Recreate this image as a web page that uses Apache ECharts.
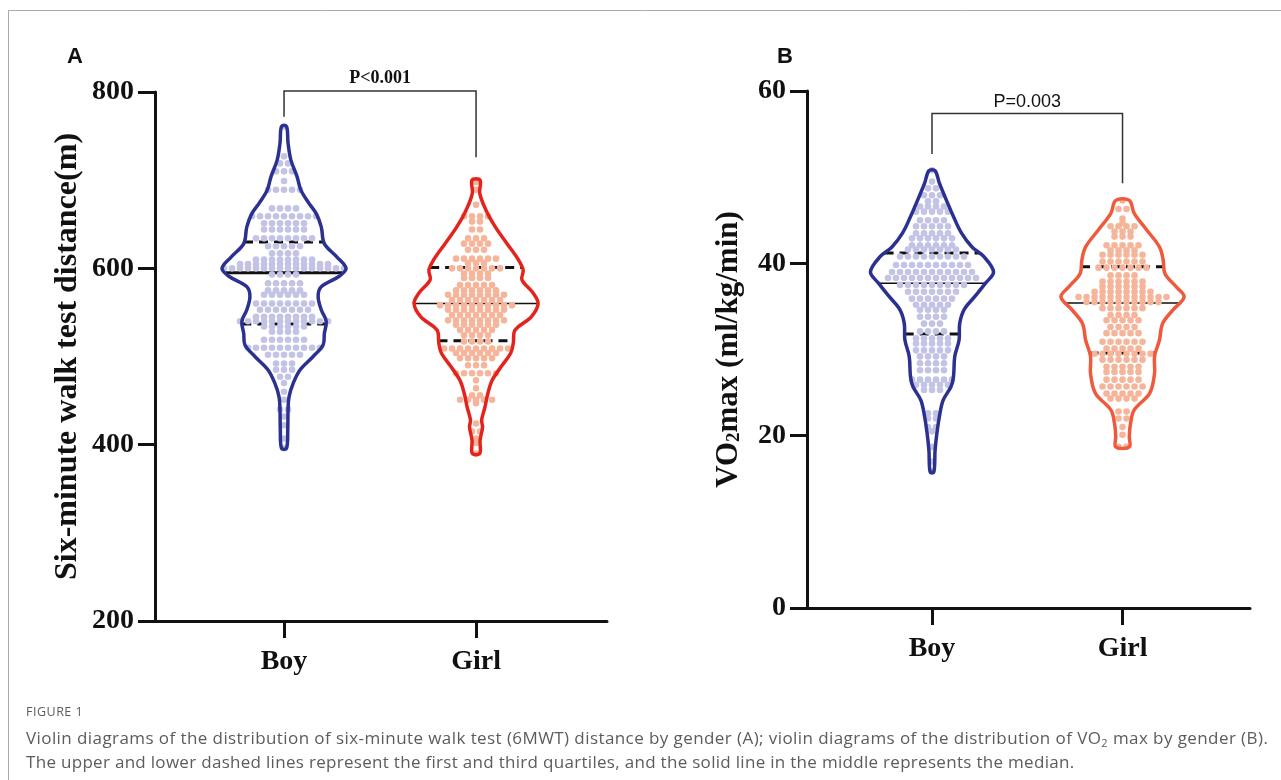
<!DOCTYPE html>
<html>
<head>
<meta charset="utf-8">
<title>Figure 1 - violin diagrams</title>
<script src="https://cdn.jsdelivr.net/npm/echarts@6/dist/echarts.min.js"></script>
<style>
    html, body { margin: 0; padding: 0; background: #fff; }
    #wrap { position: relative; width: 1281px; height: 780px; overflow: hidden; }
    #chart { position: absolute; left: 0; top: 0; width: 1281px; height: 780px; }
    #caption { position: absolute; left: 26px; top: 703px; font-family: 'Open Sans', 'Noto Sans', sans-serif; color: #5c5c5c; }
    #caption .fig { font-size: 12.5px; line-height: 18px; letter-spacing: 0.5px; margin-bottom: 5px; }
    #caption .line { font-size: 17px; line-height: 24px; letter-spacing: 0.3px; white-space: nowrap; }
    #caption .first { letter-spacing: 0.42px; }
    #caption sub { font-size: 11px; line-height: 0; vertical-align: -3px; }
</style>
</head>
<body>
<div id="wrap">
    <div id="chart"></div>
    <div id="caption">
        <div class="fig">FIGURE 1</div>
        <div class="line first">Violin diagrams of the distribution of six-minute walk test (6MWT) distance by gender (A); violin diagrams of the distribution of VO<sub>2</sub> max by gender (B).</div>
        <div class="line">The upper and lower dashed lines represent the first and third quartiles, and the solid line in the middle represents the median.</div>
    </div>
</div>
<script>
    var categories = ['Boy', 'Girl'];

    // six-minute walk test distance (m): dot rows (value, how many children)
    var boyWalkVals = [396, 407, 422, 432, 440, 451, 460, 470, 477, 485, 492, 502, 510, 519, 528, 534, 540, 545, 553, 560,
        570, 575, 583, 593, 600, 605, 610, 617, 625, 634, 644, 651, 659, 668, 689, 699, 710, 719, 727, 761];
    var boyWalkCounts = [1, 1, 1, 1, 2, 1, 1, 1, 2, 3, 3, 5, 10, 6, 4, 6, 12, 8, 7, 8,
        6, 5, 5, 4, 16, 12, 8, 4, 5, 8, 6, 6, 9, 4, 5, 1, 3, 2, 1, 1];
    var girlWalkVals = [390, 402, 407, 415, 424, 447, 451, 456, 464, 473, 481, 490, 498, 504, 509, 517, 524, 530, 536, 541,
        547, 553, 558, 564, 570, 575, 581, 589, 594, 600, 606, 611, 621, 628, 634, 644, 653, 659, 672, 689, 698];
    var girlWalkCounts = [1, 1, 1, 2, 1, 1, 5, 2, 1, 1, 6, 3, 5, 6, 9, 4, 4, 5, 6, 8,
        7, 8, 10, 7, 8, 6, 5, 4, 4, 7, 3, 6, 3, 4, 3, 2, 2, 4, 1, 1, 1];

    // VO2max (ml/kg/min): dot rows
    var boyVo2Vals = [15.8, 17.0, 18.7, 20.5, 21.0, 22.0, 22.6, 25.3, 25.9, 26.5, 27.6, 28.4, 29.2, 29.9, 30.7, 31.3, 32.1,
        33.0, 33.8, 34.6, 35.2, 35.9, 36.7, 37.5, 38.3, 39.0, 39.8, 40.8, 41.6, 42.1, 42.9, 43.5, 44.3, 45.0, 46.0, 46.6,
        47.2, 47.9, 48.7, 49.5, 50.8];
    var boyVo2Counts = [1, 1, 1, 1, 2, 2, 2, 3, 5, 6, 4, 4, 4, 5, 5, 5, 4,
        3, 4, 4, 5, 6, 7, 9, 12, 11, 10, 9, 7, 6, 6, 5, 5, 4, 5, 4,
        2, 3, 2, 1, 1];
    var girlVo2Vals = [18.7, 20.1, 21.0, 22.0, 22.8, 24.3, 24.9, 25.7, 26.5, 27.4, 28.0, 28.8, 29.5, 30.1, 30.9, 31.9, 32.6,
        33.4, 34.0, 34.8, 35.5, 36.1, 36.7, 37.3, 37.9, 38.6, 39.5, 40.2, 41.0, 41.5, 42.1, 43.1, 43.7, 44.3, 44.7, 45.2,
        46.3, 47.3];
    var girlVo2Counts = [2, 1, 1, 2, 2, 4, 5, 6, 5, 5, 5, 6, 8, 5, 6, 5, 4,
        5, 4, 6, 10, 12, 8, 6, 6, 4, 7, 6, 6, 4, 5, 3, 3, 4, 1, 1,
        2, 1];

    // violin outlines: levels and relative density (100 = widest point)
    var boyWalkLevels = [396, 417, 439, 454, 470, 485, 500, 513, 526, 540, 553, 568, 579, 591, 600, 613, 628, 647, 662, 674, 689, 704, 723, 742, 761];
    var boyWalkDensity = [4, 6, 6.5, 8, 15, 26, 47, 63, 65, 68, 60, 55, 60, 89, 100, 85, 65, 60, 52, 40, 27, 21, 11, 6.5, 4];
    var girlWalkLevels = [390, 405, 420, 428, 443, 458, 473, 488, 504, 515, 530, 545, 560, 572, 587, 598, 610, 628, 647, 666, 685, 700];
    var girlWalkDensity = [6, 6.5, 10.5, 9, 14.5, 19, 26, 40, 56, 60, 63, 89, 100, 92, 74, 76, 68, 50, 31, 16, 6, 6.5];
    var boyVo2Levels = [15.8, 18.3, 20.3, 22.2, 24.1, 25.7, 26.9, 29.2, 31.1, 33.0, 34.6, 36.1, 37.7, 39.0, 40.8, 41.9, 43.5, 45.4, 47.4, 49.3, 50.75];
    var boyVo2Density = [3, 5, 8, 12, 18, 31, 35, 37, 44, 45, 52, 69, 87, 100, 84, 65, 48, 35, 23, 12, 5];
    var girlVo2Levels = [18.7, 19.9, 21.4, 23.0, 24.9, 27.2, 29.2, 31.1, 33.0, 34.6, 36.1, 37.3, 38.8, 40.4, 41.9, 43.9, 45.8, 47.3];
    var girlVo2Density = [11, 11, 13, 19, 44, 52, 52, 60, 65, 82, 100, 87, 69, 66, 60, 39, 19, 11];

    // quartiles: [Q1, median, Q3]
    var boyWalkQ = [537, 595, 630];
    var girlWalkQ = [518, 560, 601];
    var boyVo2Q = [31.8, 37.7, 41.2];
    var girlVo2Q = [29.6, 35.4, 39.6];

    var BOY = '#2b3190', GIRL_A = '#e4231d', GIRL_B = '#ee5a3b';
    var BOY_DOT = '#c3c3e6', GIRL_DOT = '#f6b59a';
    var SERIF = "'Liberation Serif', 'Times New Roman', serif";
    var VIOLIN_HALF = 0.323;   // widest half-width, in category units
    var DOT_STEP = 8, DOT_R = 3.3;

    function densAt(levels, dens, v) {
        for (var i = 0; i < levels.length - 1; i++) {
            if (v >= levels[i] && v <= levels[i + 1]) {
                var t = (v - levels[i]) / (levels[i + 1] - levels[i]);
                return dens[i] + t * (dens[i + 1] - dens[i]);
            }
        }
        return 0;
    }

    function violinSeries(g, cat, levels, dens, color) {
        return {
            type: 'custom', xAxisIndex: g, yAxisIndex: g, silent: true, z: 4,
            data: [[cat]],
            renderItem: function (params, api) {
                var unit = api.size([1, 0])[0];
                var left = [], right = [];
                for (var i = 0; i < levels.length; i++) {
                    var c = api.coord([cat, levels[i]]);
                    var hw = dens[i] / 100 * VIOLIN_HALF * unit;
                    left.push([c[0] - hw, c[1]]);
                    right.unshift([c[0] + hw, c[1]]);
                }
                return {
                    type: 'polygon',
                    shape: {points: left.concat(right), smooth: 0.35},
                    style: {fill: 'none', stroke: color, lineWidth: 3.5, lineJoin: 'round'}
                };
            }
        };
    }

    function quartileSeries(g, cat, levels, dens, q, medianWidth) {
        return {
            type: 'custom', xAxisIndex: g, yAxisIndex: g, silent: true, z: 2,
            data: q.map(function (v, i) { return [cat, v, i]; }),
            renderItem: function (params, api) {
                var v = api.value(1), k = api.value(2);
                var unit = api.size([1, 0])[0];
                var c = api.coord([cat, v]);
                var hw = densAt(levels, dens, v) / 100 * VIOLIN_HALF * unit;
                return {
                    type: 'line',
                    shape: {x1: c[0] - hw, y1: c[1], x2: c[0] + hw, y2: c[1]},
                    style: k === 1 ?
                        {stroke: '#111', lineWidth: medianWidth} :
                        {stroke: '#111', lineWidth: 3, lineDash: [9, 6]}
                };
            }
        };
    }

    function dotSeries(g, cat, vals, counts, color) {
        return {
            type: 'custom', xAxisIndex: g, yAxisIndex: g, silent: true, z: 3,
            data: vals.map(function (v, i) { return [cat, v, counts[i]]; }),
            renderItem: function (params, api) {
                var c = api.coord([api.value(0), api.value(1)]);
                var n = api.value(2), kids = [];
                for (var k = 0; k < n; k++) {
                    kids.push({
                        type: 'circle',
                        shape: {cx: c[0] + (k - (n - 1) / 2) * DOT_STEP, cy: c[1], r: DOT_R},
                        style: {fill: color}
                    });
                }
                return {type: 'group', children: kids};
            }
        };
    }

    // significance bracket between Boy (1) and Girl (2)
    function bracketSeries(g, top, leftEnd, rightEnd, textY, label, font) {
        return {
            type: 'custom', xAxisIndex: g, yAxisIndex: g, silent: true, clip: false, z: 5,
            data: [[1, 2]],
            renderItem: function (params, api) {
                var p1 = api.coord([1, leftEnd]), p2 = api.coord([1, top]);
                var p3 = api.coord([2, top]), p4 = api.coord([2, rightEnd]);
                var t = api.coord([1.5, textY]);
                return {
                    type: 'group', children: [
                        {type: 'polyline', shape: {points: [p1, p2, p3, p4]}, style: {stroke: '#333', lineWidth: 1.5, fill: 'none'}},
                        {type: 'text', x: t[0], y: t[1], style: {text: label, align: 'center', verticalAlign: 'middle',
                            fill: '#111', font: font}}
                    ]
                };
            }
        };
    }

    function xAxisFor(g, min, max) {
        return {
            type: 'value', gridIndex: g, min: min, max: max,
            splitLine: {show: false},
            axisLine: {show: true, lineStyle: {color: '#111', width: 3}},
            axisTick: {show: true, customValues: [1, 2], length: 17, lineStyle: {color: '#111', width: 3}},
            axisLabel: {
                customValues: [1, 2], margin: 27,
                formatter: function (v) { return categories[Math.round(v) - 1]; },
                fontFamily: SERIF, fontWeight: 'bold', fontSize: 28, color: '#111'
            }
        };
    }

    function yAxisFor(g, min, max, interval, name, gap, rich) {
        return {
            type: 'value', gridIndex: g, min: min, max: max, interval: interval,
            name: name, nameLocation: 'middle', nameGap: gap,
            nameTextStyle: {fontFamily: SERIF, fontWeight: 'bold', fontSize: 32, color: '#111', rich: rich},
            splitLine: {show: false},
            axisLine: {show: true, lineStyle: {color: '#111', width: 3}},
            axisTick: {show: true, length: 17, lineStyle: {color: '#111', width: 3}},
            axisLabel: {margin: 21, fontFamily: SERIF, fontWeight: 'bold', fontSize: 28, color: '#111'}
        };
    }

    var chart = echarts.init(document.getElementById('chart'));

    chart.setOption({
        animation: false,
        backgroundColor: '#fff',
        grid: [
            {left: 155, top: 92, width: 452, height: 529},
            {left: 807, top: 91, width: 443, height: 517}
        ],
        xAxis: [xAxisFor(0, 0.328, 2.682), xAxisFor(1, 0.344, 2.669)],
        yAxis: [
            yAxisFor(0, 200, 800, 200, 'Six-minute walk test distance(m)', 71),
            yAxisFor(1, 0, 60, 20, '{a|VO}{s|2}{a|max (ml/kg/min)}', 63, {
                a: {fontFamily: SERIF, fontWeight: 'bold', fontSize: 31, color: '#111'},
                s: {fontFamily: SERIF, fontWeight: 'bold', fontSize: 19, color: '#111', lineHeight: 8, verticalAlign: 'bottom'}
            })
        ],
        graphic: [
            {type: 'line', shape: {x1: 8, y1: 10.5, x2: 1281, y2: 10.5}, style: {stroke: '#aaa', lineWidth: 1}},
            {type: 'line', shape: {x1: 8.5, y1: 10, x2: 8.5, y2: 780}, style: {stroke: '#aaa', lineWidth: 1}},
            {type: 'text', left: 67, top: 46, style: {text: 'A', font: "bold 22px 'Liberation Sans', Arial, sans-serif", fill: '#111'}},
            {type: 'text', left: 777, top: 46, style: {text: 'B', font: "bold 22px 'Liberation Sans', Arial, sans-serif", fill: '#111'}}
        ],
        series: [
            quartileSeries(0, 1, boyWalkLevels, boyWalkDensity, boyWalkQ, 3),
            quartileSeries(0, 2, girlWalkLevels, girlWalkDensity, girlWalkQ, 1.5),
            dotSeries(0, 1, boyWalkVals, boyWalkCounts, BOY_DOT),
            dotSeries(0, 2, girlWalkVals, girlWalkCounts, GIRL_DOT),
            violinSeries(0, 1, boyWalkLevels, boyWalkDensity, BOY),
            violinSeries(0, 2, girlWalkLevels, girlWalkDensity, GIRL_A),
            bracketSeries(0, 801, 772, 726, 815, 'P<0.001', "bold 18px " + SERIF),

            quartileSeries(1, 1, boyVo2Levels, boyVo2Density, boyVo2Q, 1.5),
            quartileSeries(1, 2, girlVo2Levels, girlVo2Density, girlVo2Q, 1.5),
            dotSeries(1, 1, boyVo2Vals, boyVo2Counts, BOY_DOT),
            dotSeries(1, 2, girlVo2Vals, girlVo2Counts, GIRL_DOT),
            violinSeries(1, 1, boyVo2Levels, boyVo2Density, BOY),
            violinSeries(1, 2, girlVo2Levels, girlVo2Density, GIRL_B),
            bracketSeries(1, 57.4, 52.7, 49.3, 58.7, 'P=0.003', "18px 'Liberation Sans', Arial, sans-serif")
        ]
    });
</script>
</body>
</html>
